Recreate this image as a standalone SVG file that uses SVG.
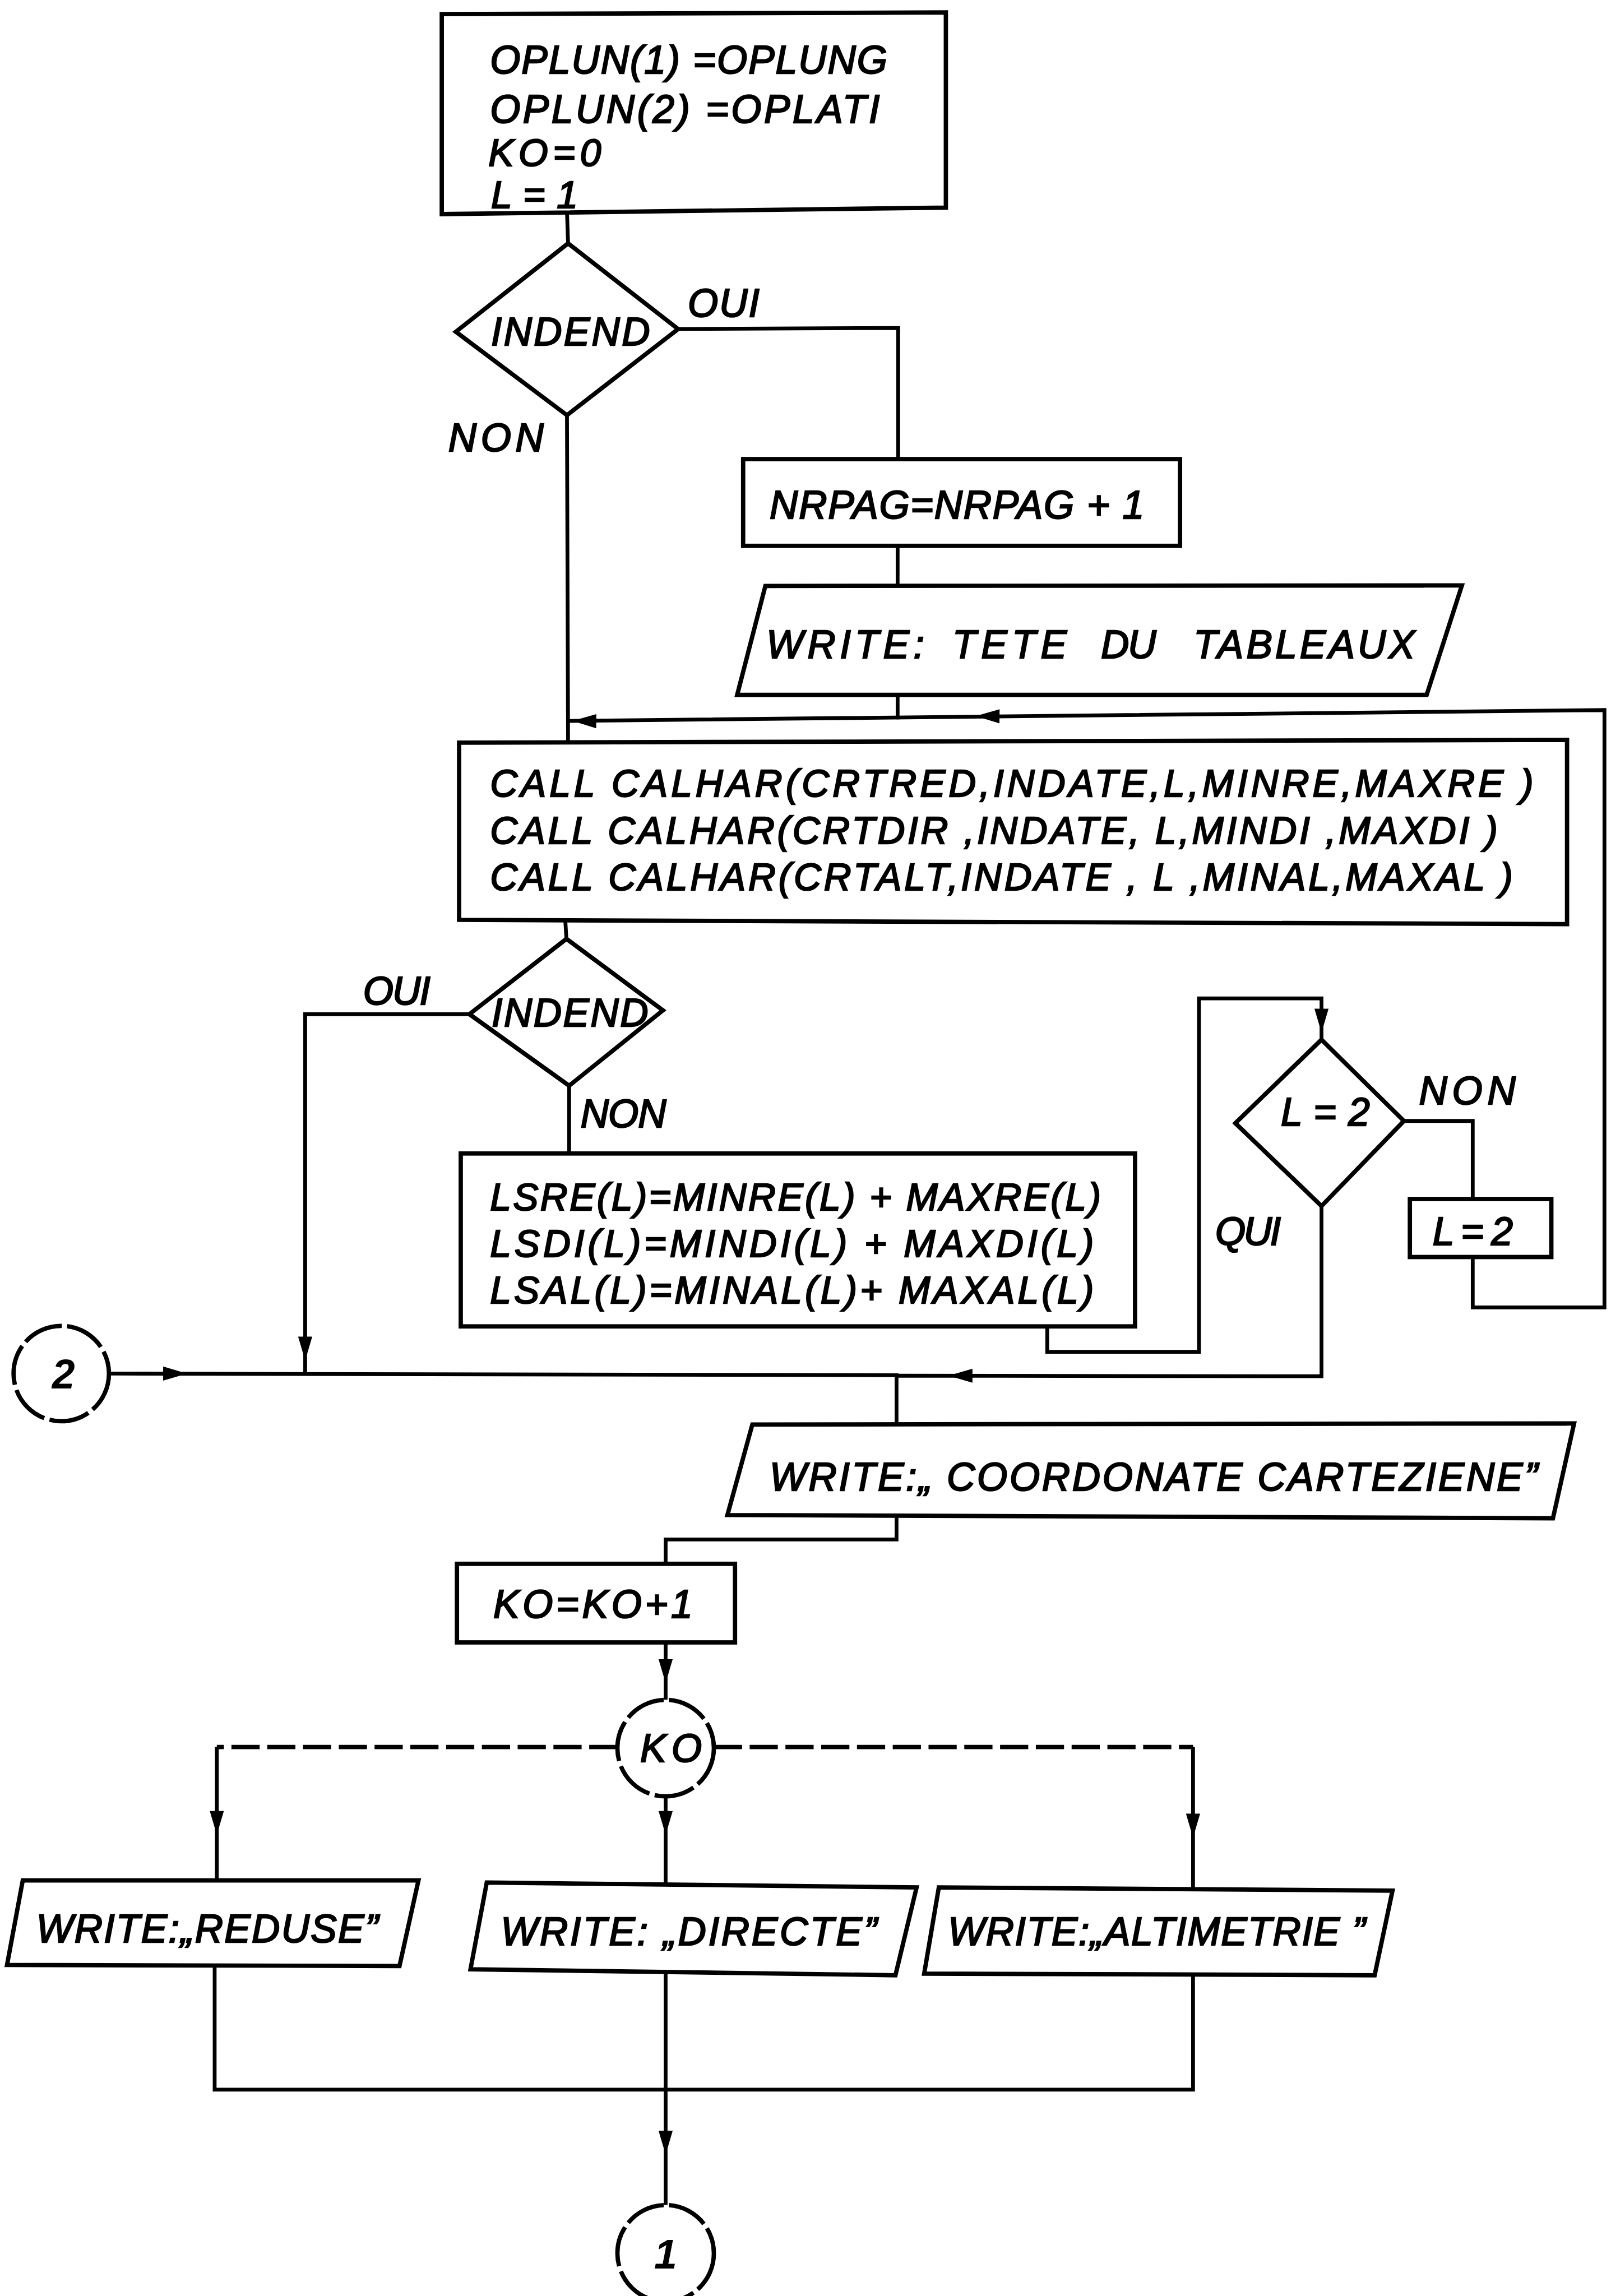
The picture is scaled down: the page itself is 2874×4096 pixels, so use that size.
<svg xmlns="http://www.w3.org/2000/svg" xmlns:xlink="http://www.w3.org/1999/xlink" width="2874" height="4096" viewBox="0 0 2874 4096">
  <defs>
    <style>
      .shape { fill: #ffffff; stroke: #000000; stroke-width: 8; stroke-linejoin: miter; }
      .ring { fill: #ffffff; stroke: #000000; stroke-width: 8; stroke-dasharray: 75 10; }
      .wire { fill: none; stroke: #000000; stroke-width: 7; stroke-linejoin: miter; }
      .dash { fill: none; stroke: #000000; stroke-width: 8; stroke-dasharray: 52 14; }
      .lbl { font-family: "Liberation Sans", Arial, sans-serif; font-style: italic; font-size: 72px; fill: #000000; stroke: #000000; stroke-width: 2.5; }
      .sm { font-size: 70px; }
      .num { font-family: "Liberation Sans", Arial, sans-serif; font-style: italic; font-weight: bold; font-size: 76px; fill: #000000; text-anchor: middle; }
    </style>
    <path id="ah" d="M0,0 L-44,-13 L-44,13 Z" fill="#000000"/>
  </defs>

  <rect x="0" y="0" width="2874" height="4096" fill="#ffffff"/>

  <g transform="scale(0.967)">

    <!-- connectors -->
    <g id="connectors">
      <!-- init box to first test -->
      <path class="wire" d="M1046,390 L1048,449"/>
      <!-- first test, OUI branch -->
      <path class="wire" d="M1251,607 L1657,605 L1657,847"/>
      <!-- first test, NON branch down to the CALL block -->
      <path class="wire" d="M1046,766 L1048,1370"/>
      <path class="wire" d="M1656,1007 L1656,1081"/>
      <path class="wire" d="M1656,1282 L1656,1327"/>
      <!-- loop back from L=2 -->
      <path class="wire" d="M2717,2319 L2717,2412 L2960,2412 L2960,1310 L1048,1330"/>
      <use xlink:href="#ah" transform="translate(1800,1321) rotate(180.6)"/>
      <use xlink:href="#ah" transform="translate(1056,1330) rotate(180.6)"/>
      <!-- CALL block to second test -->
      <path class="wire" d="M1043,1700 L1045,1732"/>
      <!-- second test, OUI branch -->
      <path class="wire" d="M866,1871 L563,1871 L563,2534"/>
      <use xlink:href="#ah" transform="translate(563,2510) rotate(90)"/>
      <!-- second test, NON branch -->
      <path class="wire" d="M1050,2003 L1050,2128"/>
      <!-- LSRE block to L=2 test -->
      <path class="wire" d="M1932,2447 L1932,2494 L2212,2494 L2212,1842 L2438,1842 L2438,1918"/>
      <use xlink:href="#ah" transform="translate(2438,1905) rotate(90)"/>
      <!-- L=2 test, NON branch -->
      <path class="wire" d="M2590,2068 L2717,2068 L2717,2212"/>
      <!-- L=2 test, QUI branch -->
      <path class="wire" d="M2438,2225 L2438,2539 L1654,2538"/>
      <use xlink:href="#ah" transform="translate(1750,2538) rotate(180)"/>
      <!-- connector 2 into main line -->
      <path class="wire" d="M201,2534 L1654,2537 L1654,2628"/>
      <use xlink:href="#ah" transform="translate(345,2534) rotate(0)"/>
      <!-- coordinates output to KO counter -->
      <path class="wire" d="M1654,2797 L1654,2840 L1228,2840 L1228,2885"/>
      <path class="wire" d="M1228,3030 L1228,3136"/>
      <use xlink:href="#ah" transform="translate(1228,3105) rotate(90)"/>
      <!-- KO switch branches -->
      <path class="dash" d="M1139,3223 L400,3223"/>
      <path class="wire" d="M400,3223 L400,3469"/>
      <use xlink:href="#ah" transform="translate(400,3385) rotate(90)"/>
      <path class="wire" d="M1228,3314 L1228,3477"/>
      <use xlink:href="#ah" transform="translate(1228,3385) rotate(90)"/>
      <path class="dash" d="M1317,3223 L2201,3223"/>
      <path class="wire" d="M2201,3223 L2201,3486"/>
      <use xlink:href="#ah" transform="translate(2201,3390) rotate(90)"/>
      <!-- join after the three outputs -->
      <path class="wire" d="M396,3627 L396,3855 L2201,3855 L2201,3644"/>
      <path class="wire" d="M1228,3640 L1228,4068"/>
      <use xlink:href="#ah" transform="translate(1228,3975) rotate(90)"/>
    </g>

    <!-- nodes -->
    <g id="init">
      <polygon class="shape" points="815,26 1745,23 1745,383 815,395"/>
      <text class="lbl" x="904" y="136" textLength="733" lengthAdjust="spacing">OPLUN(1) =OPLUNG</text>
      <text class="lbl" x="904" y="226" textLength="719" lengthAdjust="spacing">OPLUN(2) =OPLATI</text>
      <text class="lbl sm" x="901" y="306" textLength="208" lengthAdjust="spacing">KO=0</text>
      <text class="lbl sm" x="906" y="384" textLength="160" lengthAdjust="spacing">L = 1</text>
    </g>

    <g id="test-indend-1">
      <polygon class="shape" points="1048,449 1251,607 1046,766 841,612"/>
      <text class="lbl" x="906" y="637" textLength="293" lengthAdjust="spacing">INDEND</text>
      <text class="lbl" x="1269" y="584" textLength="132" lengthAdjust="spacing">OUI</text>
      <text class="lbl" x="827" y="833" textLength="176" lengthAdjust="spacing">NON</text>
    </g>

    <g id="nrpag">
      <rect class="shape" x="1371" y="847" width="806" height="160"/>
      <text class="lbl" x="1420" y="957" textLength="691" lengthAdjust="spacing">NRPAG=NRPAG + 1</text>
    </g>

    <g id="write-header">
      <polygon class="shape" points="1412,1081 2697,1080 2632,1282 1360,1282"/>
      <text class="lbl" y="1214">
        <tspan x="1414" textLength="291" lengthAdjust="spacing">WRITE:</tspan>
        <tspan x="1757" textLength="211" lengthAdjust="spacing">TETE</tspan>
        <tspan x="2031" textLength="102" lengthAdjust="spacing">DU</tspan>
        <tspan x="2202" textLength="408" lengthAdjust="spacing">TABLEAUX</tspan>
      </text>
    </g>

    <g id="call-calhar">
      <polygon class="shape" points="847,1370 2891,1365 2891,1705 847,1697"/>
      <text class="lbl sm" x="904" y="1470" textLength="1925" lengthAdjust="spacing">CALL  CALHAR(CRTRED,INDATE,L,MINRE,MAXRE )</text>
      <text class="lbl sm" x="904" y="1556" textLength="1859" lengthAdjust="spacing">CALL CALHAR(CRTDIR ,INDATE, L,MINDI ,MAXDI )</text>
      <text class="lbl sm" x="904" y="1642" textLength="1887" lengthAdjust="spacing">CALL CALHAR(CRTALT,INDATE , L ,MINAL,MAXAL )</text>
    </g>

    <g id="test-indend-2">
      <polygon class="shape" points="1045,1732 1223,1864 1050,2003 866,1871"/>
      <text class="lbl" x="907" y="1893" textLength="289" lengthAdjust="spacing">INDEND</text>
      <text class="lbl" x="670" y="1853" textLength="124" lengthAdjust="spacing">OUI</text>
      <text class="lbl" x="1071" y="2080" textLength="158" lengthAdjust="spacing">NON</text>
    </g>

    <g id="lsum">
      <rect class="shape" x="850" y="2128" width="1244" height="319"/>
      <text class="lbl sm" x="904" y="2233" textLength="1127" lengthAdjust="spacing">LSRE(L)=MINRE(L) + MAXRE(L)</text>
      <text class="lbl sm" x="904" y="2319" textLength="1114" lengthAdjust="spacing">LSDI(L)=MINDI(L) + MAXDI(L)</text>
      <text class="lbl sm" x="904" y="2404" textLength="1114" lengthAdjust="spacing">LSAL(L)=MINAL(L)+ MAXAL(L)</text>
    </g>

    <g id="test-l2">
      <polygon class="shape" points="2438,1918 2590,2068 2438,2225 2279,2072"/>
      <text class="lbl" x="2363" y="2077" textLength="164" lengthAdjust="spacing">L = 2</text>
      <text class="lbl" x="2618" y="2037" textLength="178" lengthAdjust="spacing">NON</text>
      <text class="lbl" x="2242" y="2297" textLength="121" lengthAdjust="spacing">QUI</text>
    </g>

    <g id="set-l2">
      <rect class="shape" x="2601" y="2212" width="261" height="107"/>
      <text class="lbl" x="2643" y="2297" textLength="148" lengthAdjust="spacing">L = 2</text>
    </g>

    <g id="connector-2">
      <circle class="ring" cx="113" cy="2534" r="88"/>
      <text class="num" x="117" y="2562">2</text>
    </g>

    <g id="write-coord">
      <polygon class="shape" points="1388,2628 2904,2626 2865,2801 1342,2795"/>
      <text class="lbl" x="1420" y="2750" textLength="1417" lengthAdjust="spacing">WRITE:„ COORDONATE CARTEZIENE”</text>
    </g>

    <g id="ko-inc">
      <rect class="shape" x="843" y="2885" width="513" height="145"/>
      <text class="lbl" x="910" y="2985" textLength="368" lengthAdjust="spacing">KO=KO+1</text>
    </g>

    <g id="ko-switch">
      <circle class="ring" cx="1228" cy="3225" r="89"/>
      <text class="lbl" x="1181" y="3250" textLength="114" lengthAdjust="spacing">KO</text>
    </g>

    <g id="write-reduse">
      <polygon class="shape" points="42,3469 772,3469 737,3627 13,3625"/>
      <text class="lbl" x="67" y="3583" textLength="631" lengthAdjust="spacing">WRITE:„REDUSE”</text>
    </g>

    <g id="write-directe">
      <polygon class="shape" points="898,3473 1691,3482 1652,3644 868,3633"/>
      <text class="lbl" x="924" y="3588" textLength="694" lengthAdjust="spacing">WRITE: „DIRECTE”</text>
    </g>

    <g id="write-altimetrie">
      <polygon class="shape" points="1732,3482 2569,3488 2536,3644 1705,3641"/>
      <text class="lbl" x="1749" y="3588" textLength="770" lengthAdjust="spacing">WRITE:„ALTIMETRIE ”</text>
    </g>

    <g id="connector-1">
      <circle class="ring" cx="1228" cy="4157" r="89"/>
      <text class="num" x="1228" y="4185">1</text>
    </g>

  </g>
</svg>
